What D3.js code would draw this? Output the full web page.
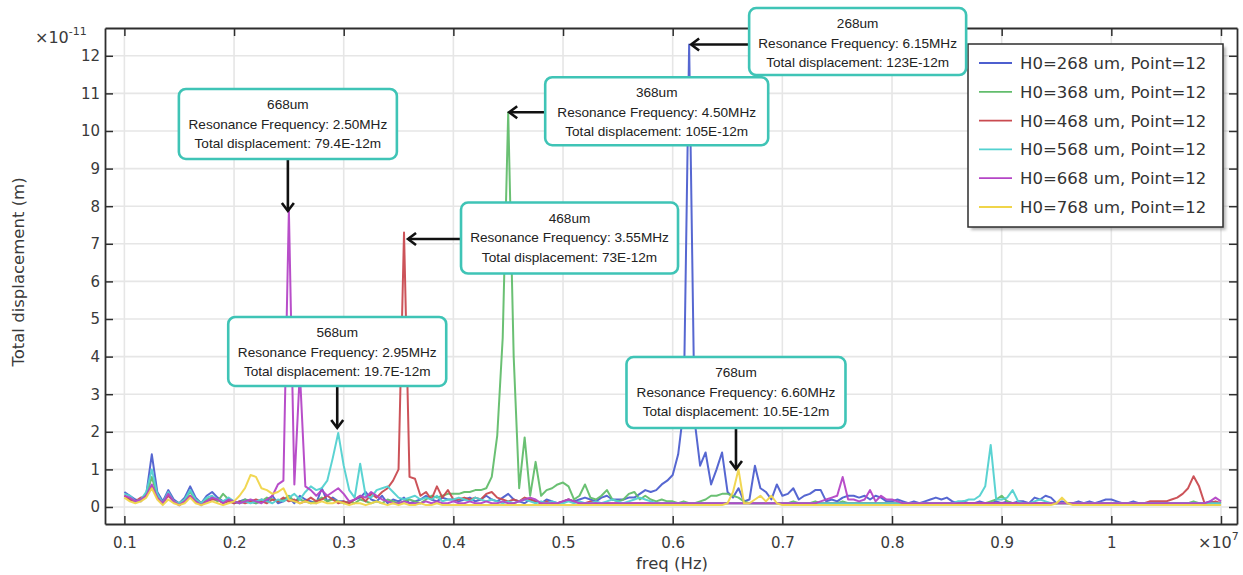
<!DOCTYPE html>
<html><head><meta charset="utf-8">
<script src="https://cdn.jsdelivr.net/npm/d3@7"></script>
<style>body{margin:0;background:#fff}svg{display:block}</style>
</head><body><svg id="c" width="1243" height="575"></svg>
<script>
// ---- DATA ----
const freqMHz = [
1.00,1.05,1.10,1.15,1.20,1.25,1.30,1.35,1.40,1.45,1.50,1.55,1.60,1.65,1.70,1.75,1.80,1.85,1.90,1.95,
2.00,2.05,2.10,2.15,2.20,2.25,2.30,2.35,2.40,2.45,2.50,2.55,2.60,2.65,2.70,2.75,2.80,2.85,2.90,2.95,
3.00,3.05,3.10,3.15,3.20,3.25,3.30,3.35,3.40,3.45,3.50,3.55,3.60,3.65,3.70,3.75,3.80,3.85,3.90,3.95,
4.00,4.05,4.10,4.15,4.20,4.25,4.30,4.35,4.40,4.45,4.50,4.55,4.60,4.65,4.70,4.75,4.80,4.85,4.90,4.95,
5.00,5.05,5.10,5.15,5.20,5.25,5.30,5.35,5.40,5.45,5.50,5.55,5.60,5.65,5.70,5.75,5.80,5.85,5.90,5.95,
6.00,6.05,6.10,6.15,6.20,6.25,6.30,6.35,6.40,6.45,6.50,6.55,6.60,6.65,6.70,6.75,6.80,6.85,6.90,6.95,
7.00,7.05,7.10,7.15,7.20,7.25,7.30,7.35,7.40,7.45,7.50,7.55,7.60,7.65,7.70,7.75,7.80,7.85,7.90,7.95,
8.00,8.05,8.10,8.15,8.20,8.25,8.30,8.35,8.40,8.45,8.50,8.55,8.60,8.65,8.70,8.75,8.80,8.85,8.90,8.95,
9.00,9.05,9.10,9.15,9.20,9.25,9.30,9.35,9.40,9.45,9.50,9.55,9.60,9.65,9.70,9.75,9.80,9.85,9.90,9.95,
10.00,10.05,10.10,10.15,10.20,10.25,10.30,10.35,10.40,10.45,10.50,10.55,10.60,10.65,10.70,10.75,10.80,10.85,10.90,10.95,
11.00];

// displacement in units of 1e-11 m
const h268 = [
0.40,0.30,0.20,0.15,0.35,1.40,0.40,0.15,0.45,0.20,0.10,0.25,0.55,0.25,0.10,0.30,0.40,0.25,0.15,0.20,
0.10,0.15,0.20,0.15,0.10,0.20,0.15,0.30,0.10,0.15,0.25,0.10,0.30,0.20,0.15,0.10,0.50,0.15,0.25,0.15,
0.15,0.10,0.20,0.25,0.40,0.20,0.15,0.30,0.10,0.20,0.15,0.25,0.10,0.15,0.20,0.30,0.20,0.15,0.25,0.20,
0.20,0.15,0.20,0.25,0.15,0.20,0.30,0.20,0.15,0.25,0.35,0.20,0.15,0.10,0.20,0.15,0.10,0.20,0.15,0.10,
0.15,0.20,0.15,0.20,0.25,0.20,0.15,0.25,0.30,0.20,0.20,0.20,0.25,0.25,0.35,0.45,0.40,0.45,0.60,0.70,
0.85,1.40,2.60,12.30,2.30,1.10,1.45,0.60,1.00,1.45,0.40,0.25,0.50,0.15,0.20,1.10,0.50,0.40,0.20,0.60,
0.30,0.35,0.50,0.20,0.30,0.35,0.45,0.45,0.15,0.20,0.15,0.25,0.30,0.30,0.25,0.30,0.20,0.30,0.25,0.15,
0.15,0.20,0.15,0.10,0.15,0.10,0.15,0.20,0.25,0.20,0.25,0.15,0.10,0.15,0.10,0.10,0.15,0.10,0.10,0.15,
0.10,0.15,0.10,0.15,0.15,0.10,0.25,0.20,0.30,0.25,0.10,0.15,0.10,0.10,0.15,0.10,0.15,0.10,0.15,0.20,
0.20,0.15,0.10,0.10,0.15,0.10,0.10,0.10,0.10,0.10,0.10,0.10,0.10,0.10,0.10,0.10,0.10,0.10,0.15,0.10,
0.10];
const h368 = [
0.30,0.20,0.15,0.20,0.30,0.80,0.30,0.10,0.35,0.15,0.10,0.20,0.40,0.20,0.10,0.20,0.25,0.15,0.35,0.20,
0.15,0.10,0.20,0.15,0.10,0.15,0.25,0.20,0.15,0.20,0.30,0.15,0.20,0.15,0.10,0.15,0.25,0.15,0.20,0.15,
0.10,0.15,0.10,0.20,0.15,0.10,0.15,0.10,0.20,0.15,0.10,0.15,0.20,0.15,0.10,0.20,0.30,0.25,0.30,0.35,
0.35,0.35,0.40,0.40,0.45,0.45,0.50,0.80,1.90,4.50,10.50,4.00,0.50,1.85,0.30,1.20,0.30,0.45,0.50,0.60,
0.65,0.55,0.20,0.30,0.60,0.25,0.20,0.30,0.45,0.20,0.15,0.20,0.35,0.40,0.20,0.30,0.20,0.15,0.20,0.15,
0.15,0.10,0.15,0.10,0.10,0.15,0.20,0.30,0.30,0.35,0.35,0.30,0.25,0.15,0.10,0.10,0.10,0.10,0.10,0.10,
0.10,0.10,0.15,0.10,0.10,0.10,0.15,0.10,0.10,0.10,0.10,0.15,0.10,0.10,0.10,0.10,0.10,0.10,0.10,0.10,
0.10,0.10,0.10,0.10,0.10,0.10,0.10,0.10,0.10,0.10,0.10,0.10,0.10,0.10,0.10,0.10,0.10,0.10,0.15,0.20,
0.30,0.15,0.10,0.10,0.10,0.10,0.10,0.10,0.10,0.10,0.10,0.10,0.10,0.10,0.10,0.10,0.10,0.10,0.10,0.10,
0.10,0.10,0.10,0.10,0.10,0.10,0.10,0.10,0.10,0.10,0.10,0.10,0.10,0.10,0.10,0.15,0.10,0.05,0.05,0.05,
0.05];
const h468 = [
0.30,0.20,0.15,0.25,0.30,0.55,0.25,0.10,0.30,0.15,0.05,0.15,0.30,0.15,0.10,0.15,0.20,0.20,0.10,0.15,
0.10,0.15,0.10,0.15,0.20,0.15,0.10,0.20,0.15,0.25,0.15,0.20,0.10,0.15,0.25,0.15,0.20,0.30,0.20,0.10,
0.15,0.10,0.20,0.30,0.15,0.35,0.25,0.40,0.50,0.70,1.00,7.30,0.80,0.75,0.30,0.40,0.20,0.55,0.25,0.45,
0.20,0.20,0.25,0.20,0.25,0.20,0.35,0.40,0.25,0.20,0.15,0.20,0.15,0.25,0.20,0.15,0.10,0.15,0.10,0.10,
0.15,0.20,0.15,0.10,0.10,0.15,0.10,0.10,0.10,0.10,0.10,0.10,0.10,0.10,0.10,0.10,0.10,0.10,0.10,0.10,
0.10,0.10,0.10,0.10,0.10,0.10,0.10,0.10,0.10,0.10,0.10,0.10,0.10,0.10,0.10,0.10,0.10,0.10,0.10,0.10,
0.10,0.10,0.10,0.10,0.10,0.10,0.10,0.10,0.10,0.10,0.10,0.10,0.10,0.10,0.10,0.10,0.10,0.10,0.10,0.10,
0.10,0.10,0.10,0.10,0.10,0.10,0.10,0.10,0.10,0.10,0.10,0.10,0.10,0.10,0.10,0.10,0.10,0.10,0.10,0.10,
0.10,0.10,0.10,0.10,0.10,0.10,0.10,0.10,0.10,0.10,0.10,0.10,0.10,0.10,0.10,0.10,0.10,0.10,0.10,0.10,
0.10,0.10,0.10,0.10,0.10,0.10,0.10,0.15,0.15,0.15,0.15,0.20,0.25,0.35,0.50,0.82,0.55,0.10,0.10,0.15,
0.10];
const h568 = [
0.35,0.30,0.15,0.20,0.40,1.00,0.35,0.10,0.40,0.15,0.10,0.20,0.45,0.20,0.10,0.25,0.30,0.20,0.15,0.25,
0.15,0.10,0.15,0.10,0.15,0.20,0.15,0.10,0.20,0.15,0.25,0.35,0.20,0.40,0.55,0.45,0.50,0.70,1.30,1.97,
1.10,0.45,0.25,1.15,0.30,0.25,0.45,0.50,0.55,0.40,0.25,0.20,0.25,0.30,0.20,0.25,0.20,0.30,0.15,0.20,
0.20,0.25,0.20,0.15,0.25,0.20,0.15,0.20,0.15,0.10,0.15,0.10,0.15,0.20,0.15,0.10,0.15,0.10,0.15,0.10,
0.10,0.15,0.10,0.15,0.10,0.10,0.15,0.10,0.15,0.20,0.15,0.10,0.15,0.20,0.25,0.20,0.15,0.10,0.10,0.10,
0.10,0.10,0.10,0.10,0.10,0.10,0.10,0.10,0.10,0.10,0.10,0.10,0.10,0.10,0.10,0.10,0.10,0.10,0.10,0.10,
0.10,0.10,0.10,0.10,0.10,0.10,0.10,0.10,0.10,0.10,0.10,0.10,0.10,0.10,0.10,0.10,0.10,0.10,0.10,0.10,
0.10,0.10,0.10,0.10,0.10,0.10,0.10,0.10,0.10,0.10,0.10,0.10,0.15,0.15,0.20,0.20,0.30,0.55,1.65,0.20,
0.20,0.25,0.45,0.15,0.10,0.10,0.15,0.20,0.15,0.10,0.10,0.10,0.10,0.10,0.10,0.10,0.10,0.10,0.10,0.10,
0.10,0.10,0.10,0.10,0.10,0.10,0.10,0.10,0.10,0.10,0.10,0.10,0.10,0.10,0.10,0.10,0.10,0.10,0.10,0.10,
0.10];
const h668 = [
0.30,0.25,0.15,0.20,0.30,0.60,0.25,0.10,0.35,0.15,0.05,0.15,0.30,0.15,0.05,0.15,0.25,0.20,0.10,0.20,
0.15,0.10,0.15,0.20,0.15,0.10,0.20,0.30,0.60,0.70,7.90,0.60,3.60,0.55,0.45,0.30,0.45,0.30,0.40,0.50,
0.35,0.15,0.20,0.30,0.25,0.40,0.30,0.20,0.15,0.10,0.10,0.15,0.10,0.10,0.10,0.15,0.10,0.15,0.10,0.10,
0.15,0.10,0.10,0.15,0.10,0.10,0.15,0.10,0.10,0.15,0.10,0.10,0.15,0.20,0.25,0.20,0.10,0.10,0.10,0.10,
0.15,0.20,0.15,0.10,0.10,0.10,0.10,0.10,0.10,0.10,0.10,0.10,0.10,0.10,0.10,0.10,0.10,0.10,0.10,0.10,
0.10,0.10,0.10,0.10,0.10,0.10,0.10,0.10,0.10,0.10,0.10,0.10,0.10,0.10,0.10,0.10,0.10,0.10,0.10,0.10,
0.10,0.10,0.10,0.10,0.10,0.10,0.10,0.15,0.20,0.25,0.30,0.80,0.20,0.20,0.15,0.20,0.45,0.15,0.30,0.20,
0.20,0.15,0.10,0.10,0.10,0.10,0.10,0.10,0.10,0.10,0.10,0.10,0.10,0.10,0.10,0.10,0.10,0.10,0.10,0.10,
0.10,0.10,0.10,0.10,0.10,0.10,0.10,0.10,0.10,0.10,0.10,0.10,0.10,0.10,0.10,0.10,0.10,0.10,0.10,0.10,
0.10,0.10,0.10,0.10,0.10,0.10,0.10,0.10,0.10,0.10,0.10,0.10,0.10,0.10,0.10,0.10,0.10,0.10,0.15,0.25,
0.15];
const h768 = [
0.25,0.15,0.10,0.15,0.25,0.50,0.20,0.05,0.20,0.10,0.05,0.10,0.25,0.10,0.05,0.10,0.15,0.10,0.05,0.10,
0.15,0.30,0.50,0.85,0.80,0.50,0.45,0.35,0.40,0.50,0.20,0.15,0.10,0.15,0.10,0.10,0.15,0.10,0.10,0.15,
0.10,0.05,0.10,0.10,0.05,0.10,0.15,0.10,0.05,0.10,0.05,0.10,0.05,0.05,0.10,0.05,0.05,0.10,0.05,0.05,
0.05,0.05,0.05,0.05,0.05,0.05,0.05,0.05,0.05,0.05,0.05,0.05,0.05,0.05,0.05,0.05,0.05,0.05,0.05,0.05,
0.05,0.05,0.05,0.05,0.05,0.05,0.05,0.05,0.05,0.05,0.05,0.05,0.05,0.05,0.05,0.05,0.05,0.05,0.05,0.05,
0.05,0.05,0.05,0.05,0.05,0.05,0.05,0.05,0.05,0.05,0.10,0.40,1.00,0.10,0.10,0.20,0.30,0.15,0.30,0.10,
0.05,0.05,0.05,0.05,0.05,0.05,0.05,0.05,0.05,0.05,0.05,0.05,0.05,0.05,0.05,0.05,0.05,0.05,0.05,0.05,
0.05,0.05,0.05,0.05,0.05,0.05,0.05,0.05,0.05,0.05,0.05,0.05,0.05,0.05,0.05,0.05,0.05,0.05,0.05,0.05,
0.05,0.05,0.05,0.05,0.05,0.05,0.05,0.05,0.05,0.05,0.10,0.25,0.10,0.05,0.05,0.05,0.05,0.05,0.05,0.05,
0.05,0.05,0.05,0.05,0.05,0.05,0.05,0.05,0.05,0.05,0.05,0.05,0.05,0.05,0.05,0.05,0.05,0.05,0.05,0.05,
0.05];

const seriesNames = ["H0=268 um, Point=12","H0=368 um, Point=12","H0=468 um, Point=12",
                     "H0=568 um, Point=12","H0=668 um, Point=12","H0=768 um, Point=12"];
const seriesValues = [h268, h368, h468, h568, h668, h768];
const seriesColors = ["#4d5fcf","#62bd6c","#c94a50","#52d1d0","#b445c6","#f0d54a"];

const xTicksMHz = [1,2,3,4,5,6,7,8,9,10,11];
const xTickLabels = ["0.1","0.2","0.3","0.4","0.5","0.6","0.7","0.8","0.9","1",""];
const yTicks = [0,1,2,3,4,5,6,7,8,9,10,11,12];

// annotations (peak frequency in MHz, displacement in 1e-11 m)
const annLabels = ["268um","368um","468um","668um","568um","768um"];
const annFreqText = ["6.15MHz","4.50MHz","3.55MHz","2.50MHz","2.95MHz","6.60MHz"];
const annDispText = ["123E-12m","105E-12m","73E-12m","79.4E-12m","19.7E-12m","10.5E-12m"];
const annFreq = [6.15, 4.50, 3.55, 2.50, 2.95, 6.60];
const annValue = [12.3, 10.5, 7.3, 7.94, 1.97, 1.05];

// ---- LAYOUT (styles/positions) ----
const annLayout = [
  {dir:"left", tdx:2,  tdy:0,   gap:58, w:217, h:67, bdy:-3},
  {dir:"left", tdx:1,  tdy:0,   gap:36, w:223, h:68, bdy:-1},
  {dir:"left", tdx:4,  tdy:6.5, gap:53, w:217, h:71, bdy:-1},
  {dir:"down", tdx:-1, tdy:2.5, gap:52, w:218, h:70},
  {dir:"down", tdx:-1, tdy:-5,  gap:42, w:218, h:69},
  {dir:"down", tdx:-2.5,tdy:1.5,gap:41, w:219, h:71}
];

const svg = d3.select("#c");
const L=105, R=1237, T=28, B=524;
const x = d3.scaleLinear().domain([0.8232, 11.146]).range([L, R]);
const y = d3.scaleLinear().domain([-0.452, 12.739]).range([B, T]);

const axisFont = "'DejaVu Sans', sans-serif";
const textCol = "#3a3a3a";

// grid
const grid = svg.append("g");
grid.selectAll("line.gx").data(xTicksMHz).join("line")
  .attr("x1", d=>x(d)).attr("x2", d=>x(d)).attr("y1", T).attr("y2", B)
  .attr("stroke", "#e6e6e6").attr("stroke-width", 1.6);
grid.selectAll("line.gy").data(yTicks).join("line")
  .attr("x1", L).attr("x2", R).attr("y1", d=>y(d)).attr("y2", d=>y(d))
  .attr("stroke", "#e6e6e6").attr("stroke-width", 1.6);

// series
const line = d3.line().x((d,i)=>x(freqMHz[i])).y(d=>y(d));
const plot = svg.append("g");
seriesValues.forEach((vals, k) => {
  plot.append("path").datum(vals).attr("d", line)
    .attr("fill","none").attr("stroke", seriesColors[k])
    .attr("stroke-width", 2).attr("stroke-linejoin","round").attr("opacity",0.95);
});

// axes
function styleAxis(g){
  g.select(".domain").attr("stroke","#2e2e2e").attr("stroke-width",1.8);
  g.selectAll(".tick line").attr("stroke","#2e2e2e").attr("stroke-width",1.5);
  g.selectAll(".tick text").attr("fill",textCol).style("font-family",axisFont).style("font-size","15px");
}
const xAxis = svg.append("g").attr("transform",`translate(0,${B})`)
  .call(d3.axisBottom(x).tickValues(xTicksMHz).tickFormat((d,i)=>xTickLabels[i])
        .tickSizeInner(-8).tickSizeOuter(0).tickPadding(13));
styleAxis(xAxis);
const yAxis = svg.append("g").attr("transform",`translate(${L},0)`)
  .call(d3.axisLeft(y).tickValues(yTicks).tickFormat(d3.format("d"))
        .tickSizeInner(-8).tickSizeOuter(0).tickPadding(5));
styleAxis(yAxis);
const topAxis = svg.append("g").attr("transform",`translate(0,${T})`)
  .call(d3.axisTop(x).tickValues(xTicksMHz).tickFormat("").tickSizeInner(-8).tickSizeOuter(0));
styleAxis(topAxis);
const rightAxis = svg.append("g").attr("transform",`translate(${R},0)`)
  .call(d3.axisRight(y).tickValues(yTicks).tickFormat("").tickSizeInner(-8).tickSizeOuter(0));
styleAxis(rightAxis);

// axis titles and multipliers
svg.append("text").attr("x", 672).attr("y", 569).attr("text-anchor","middle")
  .attr("fill",textCol).style("font-family",axisFont).style("font-size","16.5px").text("freq (Hz)");
svg.append("text").attr("transform","translate(24,272) rotate(-90)").attr("text-anchor","middle")
  .attr("fill",textCol).style("font-family",axisFont).style("font-size","16.5px").text("Total displacement (m)");
const m1 = svg.append("text").attr("x",35).attr("y",43).attr("fill",textCol)
  .style("font-family",axisFont).style("font-size","16px");
m1.append("tspan").text("×10");
m1.append("tspan").attr("dy",-8).style("font-size","11px").text("-11");
const m2 = svg.append("text").attr("x",1198).attr("y",548).attr("fill",textCol)
  .style("font-family",axisFont).style("font-size","16px");
m2.append("tspan").text("×10");
m2.append("tspan").attr("dy",-8).style("font-size","11px").text("7");

// legend
const defs = svg.append("defs");
defs.append("filter").attr("id","blur").append("feGaussianBlur").attr("stdDeviation",1.5);
const lg = svg.append("g");
lg.append("rect").attr("x",971).attr("y",47).attr("width",255).attr("height",183)
  .attr("fill","#888").attr("opacity",0.6).attr("filter","url(#blur)");
lg.append("rect").attr("x",968).attr("y",44).attr("width",255).attr("height",183)
  .attr("fill","#fff").attr("stroke","#2e2e2e").attr("stroke-width",1.5);
const rows = lg.selectAll("g.row").data(seriesNames).join("g")
  .attr("transform",(d,i)=>`translate(0,${63 + i*28.8})`);
rows.append("line").attr("x1",979).attr("x2",1012).attr("y1",0).attr("y2",0)
  .attr("stroke",(d,i)=>seriesColors[i]).attr("stroke-width",1.8);
rows.append("text").attr("x",1020).attr("y",0).attr("dy","0.36em")
  .attr("fill","#333").style("font-family",axisFont).style("font-size","16.5px").text(d=>d);

// annotations
const annFont = "'Liberation Sans', Arial, sans-serif";
const ag = svg.append("g");
annLabels.forEach((lab, i) => {
  const lay = annLayout[i];
  const tx = x(annFreq[i]) + lay.tdx, ty = y(annValue[i]) + lay.tdy;
  let bx, by, sx, sy, head;
  if (lay.dir === "left") {
    bx = tx + lay.gap; by = ty - lay.h/2 + lay.bdy; sx = bx; sy = ty;
    head = `M${tx+8},${ty-6}L${tx},${ty}L${tx+8},${ty+6}`;
  } else {
    by = ty - lay.gap - lay.h; bx = tx - lay.w/2; sx = tx; sy = by + lay.h;
    head = `M${tx-6},${ty-8}L${tx},${ty}L${tx+6},${ty-8}`;
  }
  ag.append("line").attr("x1",sx).attr("y1",sy).attr("x2",tx).attr("y2",ty)
    .attr("stroke","#111").attr("stroke-width",2.6);
  ag.append("path").attr("d",head).attr("fill","none").attr("stroke","#111")
    .attr("stroke-width",2.6).attr("stroke-linejoin","miter");
  ag.append("rect").attr("x",bx).attr("y",by).attr("width",lay.w).attr("height",lay.h)
    .attr("rx",7).attr("fill","#fff").attr("stroke","#3fc4b6").attr("stroke-width",2.6);
  const lines = [lab, "Resonance Frequency: " + annFreqText[i], "Total displacement: " + annDispText[i]];
  lines.forEach((t, j) => {
    ag.append("text").attr("x", bx + lay.w/2).attr("y", by + 15.5 + j*19.5).attr("dy","0.35em")
      .attr("text-anchor","middle").attr("fill","#222")
      .style("font-family",annFont).style("font-size","13.6px").text(t);
  });
});
</script></body></html>
